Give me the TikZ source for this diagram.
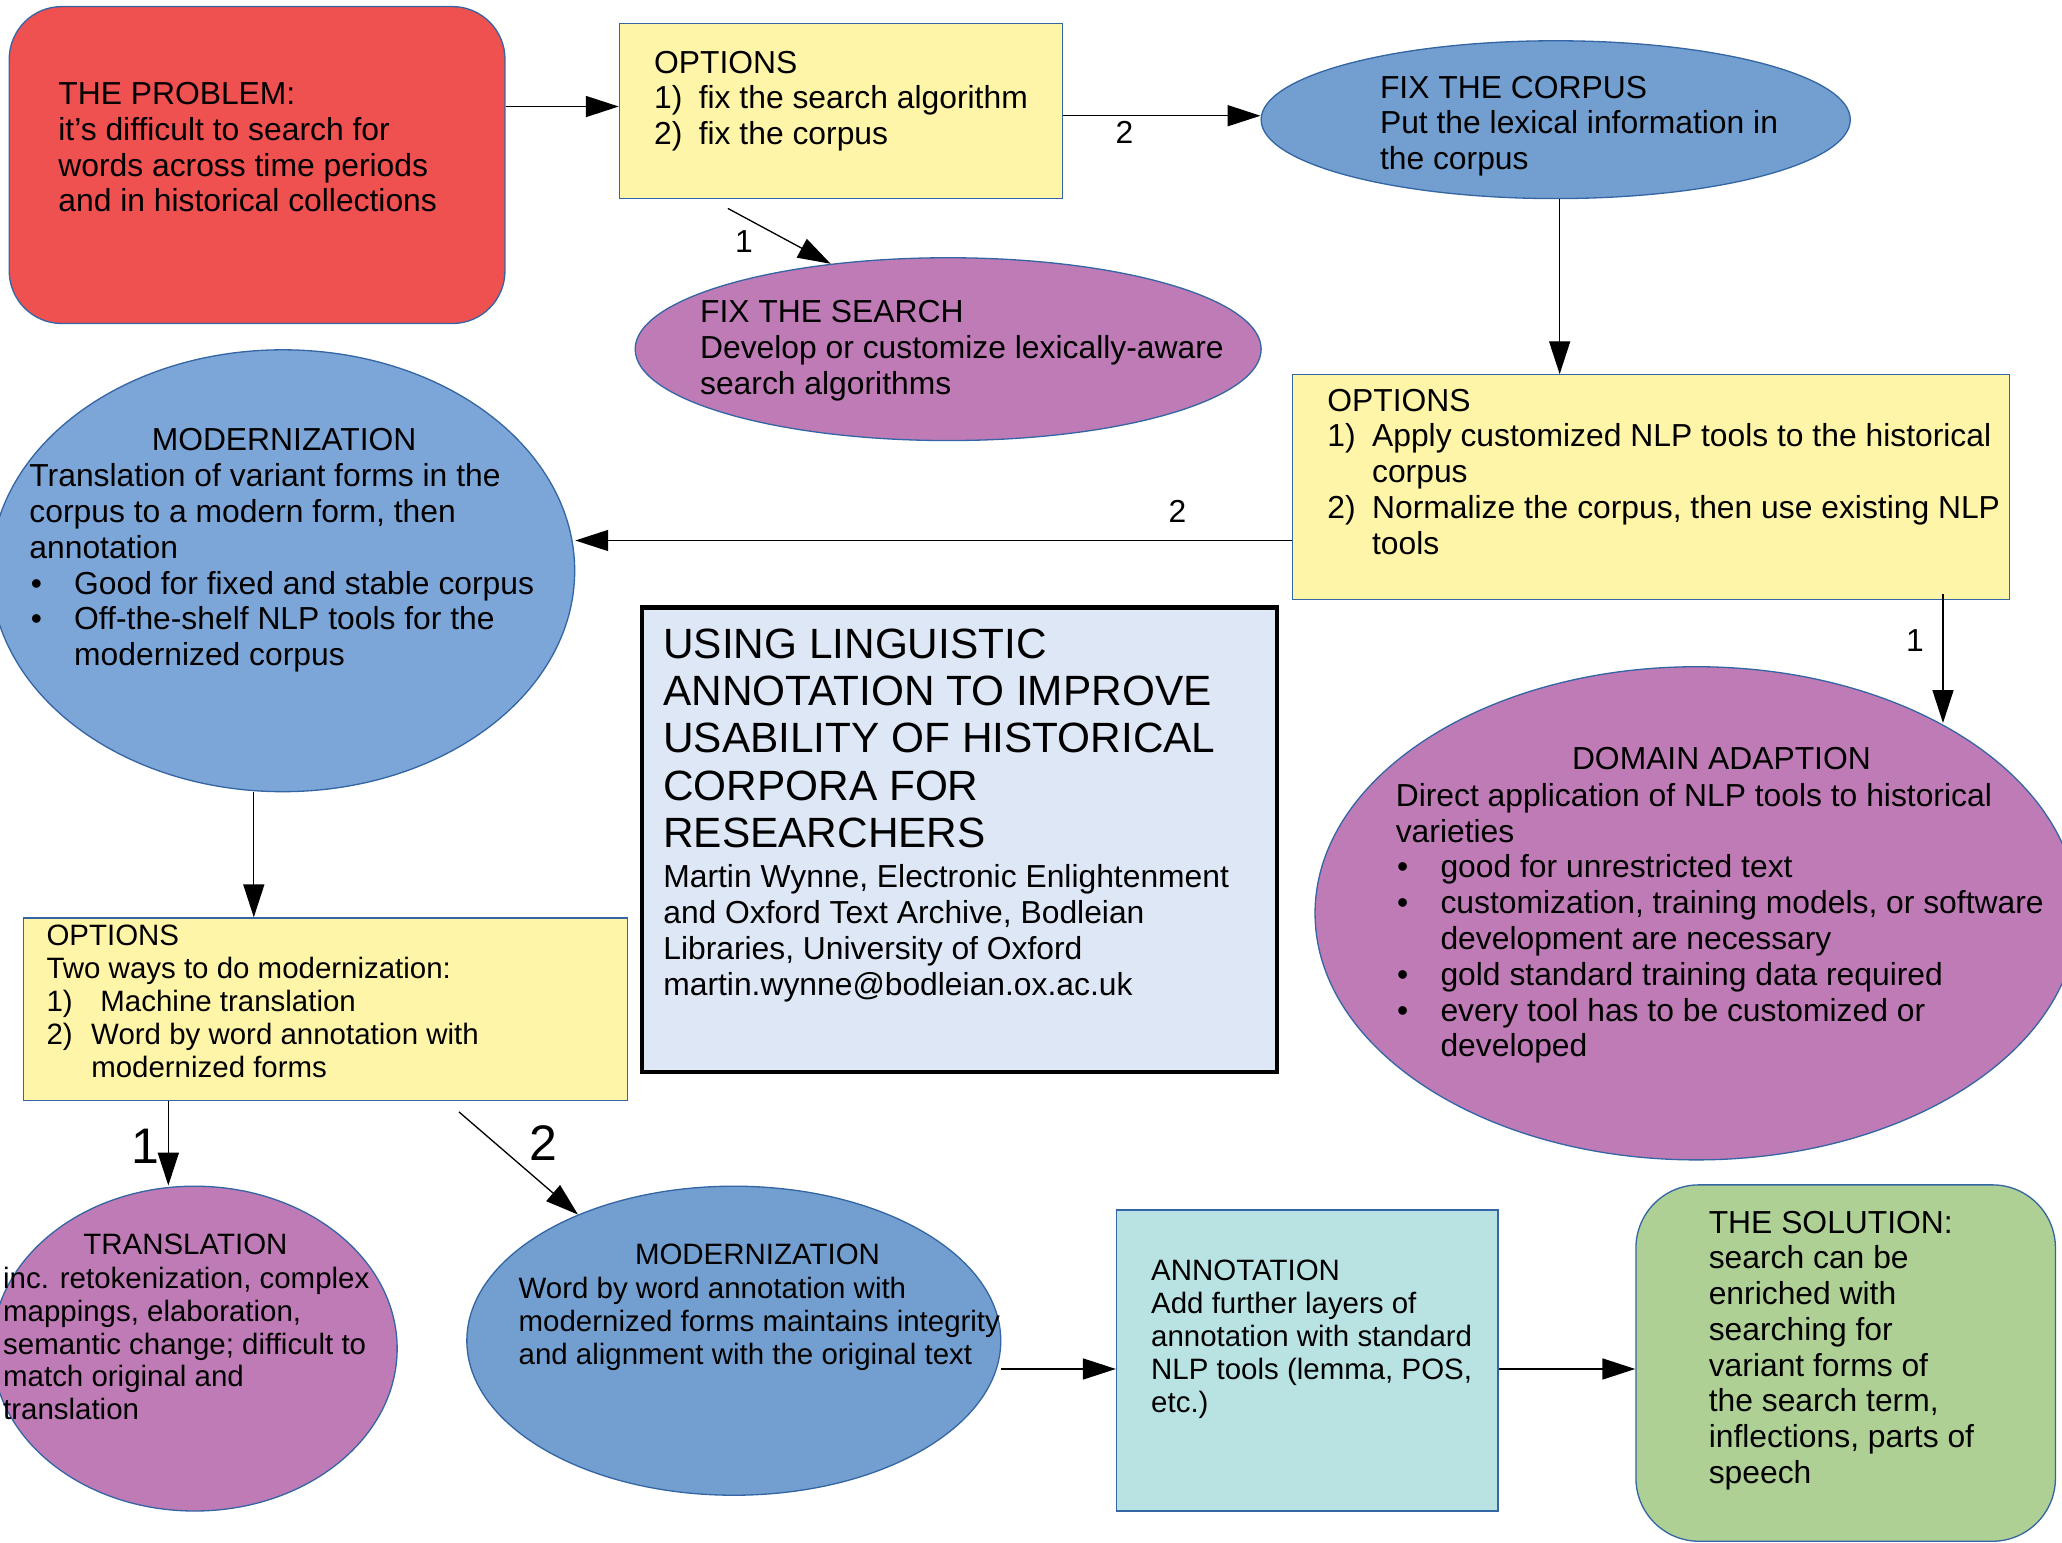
\documentclass[tikz,border=0pt]{standalone}
\usepackage{fontspec}
\setmainfont{Liberation Sans}
\usepackage{tikz}
\usetikzlibrary{shapes.geometric,arrows.meta}

\definecolor{edgeblue}{HTML}{3465A4}
\definecolor{probred}{HTML}{EF5050}
\definecolor{optyellow}{HTML}{FFF5A8}
\definecolor{modblue}{HTML}{7DA6D8}
\definecolor{fixblue}{HTML}{729FCF}
\definecolor{fixpurple}{HTML}{BF7BB6}
\definecolor{titlefill}{HTML}{DEE7F5}
\definecolor{anncyan}{HTML}{B9E3E3}
\definecolor{solgreen}{HTML}{AFD095}

\newcommand{\txtmain}{\fontsize{12.1pt}{13.6pt}\selectfont}
\newcommand{\txtsmall}{\fontsize{11.2pt}{12.5pt}\selectfont}
\newcommand{\txttitle}{\fontsize{16.1pt}{18pt}\selectfont}
\newcommand{\txtbig}{\fontsize{19pt}{21pt}\selectfont}
\newcommand{\numlab}[2][17pt]{\makebox[#1][l]{#2}}
\newcommand{\hangsp}{\hspace*{17pt}}
\newcommand{\bul}{\hspace*{0.5pt}\makebox[16.5pt][l]{\textbullet}}

\begin{document}
\begin{tikzpicture}[
x=0.5pt, y=-0.5pt,
box/.style={
  draw=edgeblue,
  line width=0.5pt,
  inner sep=0pt
  },
oval/.style={box, ellipse},
txt/.style={anchor=north west, inner sep=0pt, align=left, font=\txtmain},
head/.style={inner sep=0pt, font=\txtmain},
arr/.style={line width=0.5pt, -{Triangle[length=12.5pt,width=8pt]}},
lbl/.style={inner sep=0pt, font=\txtmain},
biglbl/.style={inner sep=0pt, font=\txtbig}
]
\useasboundingbox (0,0) rectangle (1568,1173);
\clip (0,0) rectangle (1568,1173);

% shapes
\node[box, rounded corners=20pt, fill=probred, minimum width=188.5pt, minimum height=120.5pt] (prob) at (195.5,125.5) {};
\node[box, fill=optyellow, minimum width=168.5pt, minimum height=66.5pt] (opt1) at (639.5,84.5) {};
\node[oval, fill=fixblue, minimum width=224pt, minimum height=60pt] (corpus) at (1183,91) {};
\node[oval, fill=fixpurple, minimum width=238pt, minimum height=69.5pt] (search) at (721,265.5) {};
\node[box, fill=optyellow, minimum width=272.5pt, minimum height=85.5pt] (opt2) at (1255.5,370.5) {};
\node[oval, fill=modblue, minimum width=222pt, minimum height=168pt] (mod1) at (215,434) {};
\node[draw=black, line width=1.6pt, fill=titlefill, minimum width=241.5pt, minimum height=176.5pt] (title) at (729.5,638.5) {};
\node[oval, fill=fixpurple, minimum width=290pt, minimum height=187.5pt] (domain) at (1290,694.5) {};
\node[box, fill=optyellow, minimum width=229.5pt, minimum height=69.5pt] (opt3) at (247.5,767.5) {};
\node[oval, fill=fixpurple, minimum width=154pt, minimum height=123.5pt] (trans) at (148,1025.5) {};
\node[oval, fill=fixblue, minimum width=203pt, minimum height=117.5pt] (mod2) at (558,1019.5) {};
\node[box, fill=anncyan, minimum width=145pt, minimum height=114.5pt] (ann) at (994,1034.5) {};
\node[box, rounded corners=24pt, fill=solgreen, minimum width=159.5pt, minimum height=135.5pt] (sol) at (1403.5,1036.5) {};

% texts
\node[txt] (probtxt) at (44,62.3) {THE PROBLEM:\\it’s difficult to search for\\words across time periods\\and in historical collections};
\node[txt] (opt1txt) at (497,38.3) {OPTIONS\\\numlab{1)}fix the search algorithm\\\numlab{2)}fix the corpus};
\node[txt] (corpustxt) at (1049,57.3) {FIX THE CORPUS\\Put the lexical information in\\the corpus};
\node[txt] (searchtxt) at (532,228.3) {FIX THE SEARCH\\Develop or customize lexically-aware\\search algorithms};
\node[txt] (opt2txt) at (1009,295.3) {OPTIONS\\\numlab{1)}Apply customized NLP tools to the historical\\\hangsp corpus\\\numlab{2)}Normalize the corpus, then use existing NLP\\\hangsp tools};
\node[head] (mod1head) at (216,334) {MODERNIZATION};
\node[txt] (mod1txt) at (22,352.3) {Translation of variant forms in the\\corpus to a modern form, then\\annotation\\\bul Good for fixed and stable corpus\\\bul Off-the-shelf NLP tools for the\\\hangsp modernized corpus};
\node[txt, font=\txttitle] (titletxt) at (504,477.5) {USING LINGUISTIC\\ANNOTATION TO IMPROVE\\USABILITY OF HISTORICAL\\CORPORA FOR\\RESEARCHERS};
\node[txt] (authortxt) at (504,657.3) {Martin Wynne, Electronic Enlightenment\\and Oxford Text Archive, Bodleian\\Libraries, University of Oxford\\martin.wynne@bodleian.ox.ac.uk};
\node[head] (domainhead) at (1309,577) {DOMAIN ADAPTION};
\node[txt] (domaintxt) at (1061,595.3) {Direct application of NLP tools to historical\\varieties\\\bul good for unrestricted text\\\bul customization, training models, or software\\\hangsp development are necessary\\\bul gold standard training data required\\\bul every tool has to be customized or\\\hangsp developed};
\node[txt, font=\txtsmall] (opt3txt) at (35,703) {OPTIONS\\Two ways to do modernization:\\\numlab[20.5pt]{1)}Machine translation\\\numlab{2)}Word by word annotation with\\\hangsp modernized forms};
\node[head, font=\txtsmall] (transhead) at (141,946) {TRANSLATION};
\node[txt, font=\txtsmall] (transtxt) at (2,963) {inc. retokenization, complex\\mappings, elaboration,\\semantic change; difficult to\\match original and\\translation};
\node[head, font=\txtsmall] (mod2head) at (576,954) {MODERNIZATION};
\node[txt, font=\txtsmall] (mod2txt) at (394,971) {Word by word annotation with\\modernized forms maintains integrity\\and alignment with the original text};
\node[txt, font=\txtsmall] (anntxt) at (875,958) {ANNOTATION\\Add further layers of\\annotation with standard\\NLP tools (lemma, POS,\\etc.)};
\node[txt] (soltxt) at (1299,920.3) {THE SOLUTION:\\search can be\\enriched with\\searching for\\variant forms of\\the search term,\\inflections, parts of\\speech};

% connectors
\coordinate (a1) at ([yshift=1.75pt]opt1.west);
\coordinate (b1) at ([yshift=1.5pt]corpus.west);
\coordinate (c1) at ([shift={(-86,7)}]opt1.south);
\coordinate (d1) at ([xshift=1.5pt]corpus.south);
\coordinate (e1) at ([yshift=-20.25pt]opt2.west);
\coordinate (f1) at ([shift={(-51,-5)}]opt2.south east);
\coordinate (g1) at ([xshift=-11pt]mod1.south);
\coordinate (h1) at ([xshift=-59.75pt]opt3.south);
\coordinate (i1) at ([shift={(101.5,8)}]opt3.south);
\coordinate (j1) at ([yshift=-3.25pt]ann.west);
\draw[arr] (a1 -| prob.east) -- (a1);
\draw[arr] (b1 -| opt1.east) -- (b1) node[lbl, pos=0.31, below=2pt] (l2a) {2};
\draw[arr] (c1) -- (search.144) node[lbl, pos=0.3, anchor=north east, xshift=-2pt, yshift=-2pt] (l1a) {1};
\draw[arr] (d1) -- (d1 |- opt2.north);
\draw[arr] (e1) -- (e1 -| mod1.east) node[lbl, pos=0.16, above=6.5pt] (l2b) {2};
\draw[arr] (f1) -- (f1 |- domain.38) node[lbl, pos=0.36, left=7pt] (l1b) {1};
\draw[arr] (g1) -- (g1 |- opt3.north);
\draw[arr] (h1) -- (h1 |- trans.north) node[biglbl, pos=0.53, left=3pt] (l1c) {1};
\draw[arr] (i1) -- (mod2.141) node[biglbl, pos=0.3, right=13pt] (l2c) {2};
\draw[arr] (j1 -| mod2.east) -- (j1);
\draw[arr] (ann.east |- j1) -- (j1 -| sol.west);
\end{tikzpicture}
\end{document}
